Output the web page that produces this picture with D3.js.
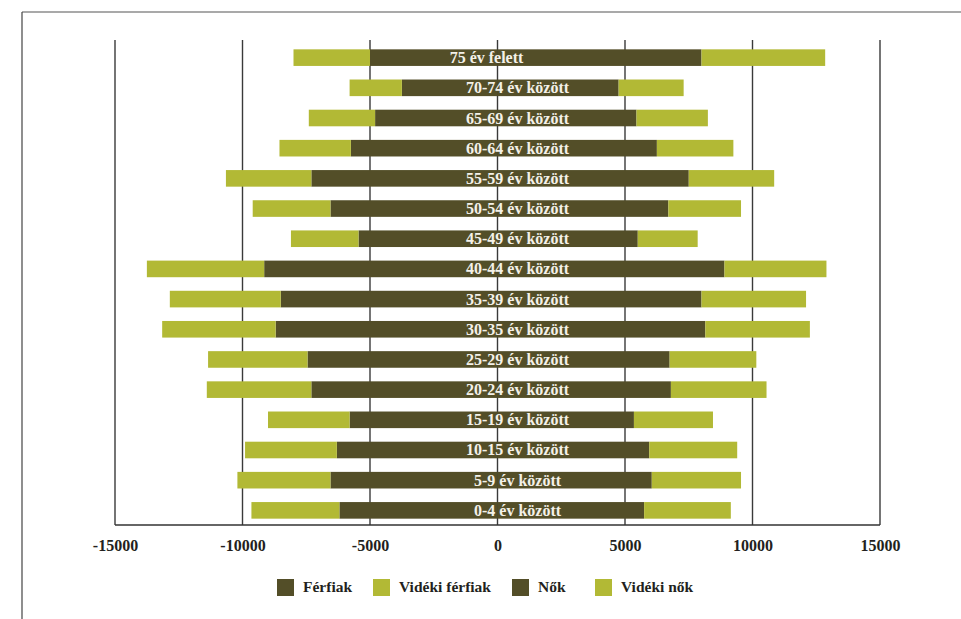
<!DOCTYPE html>
<html>
<head>
<meta charset="utf-8">
<script src="https://cdn.jsdelivr.net/npm/d3@7"></script>
<style>
  html, body { margin: 0; padding: 0; background: #fff; }
  svg { display: block; }
  text { font-family: "Liberation Serif", "DejaVu Serif", serif; font-weight: bold; }
</style>
</head>
<body>
<svg id="chart" width="961" height="619"></svg>
<script>
const ages = ["75 év felett","70-74 év között","65-69 év között","60-64 év között","55-59 év között","50-54 év között","45-49 év között","40-44 év között","35-39 év között","30-35 év között","25-29 év között","20-24 év között","15-19 év között","10-15 év között","5-9 év között","0-4 év között"];
const ferfiak        = [5000,3750,4800,5750,7300,6550,5450,9150,8500,8700,7450,7300,5800,6300,6550,6200];
const videkiFerfiak  = [3000,2050,2600,2800,3350,3050,2650,4600,4350,4450,3900,4100,3200,3600,3650,3450];
const nok            = [8000,4750,5450,6250,7500,6700,5500,8900,8000,8150,6750,6800,5350,5950,6050,5750];
const videkiNok      = [4850,2550,2800,3000,3350,2850,2350,4000,4100,4100,3400,3750,3100,3450,3500,3400];
const tickValues = [-15000,-10000,-5000,0,5000,10000,15000];
const seriesNames = ["Férfiak","Vidéki férfiak","Nők","Vidéki nők"];

const DARK = "#534e28", LIGHT = "#b2b935";
const svg = d3.select("#chart");

const x = d3.scaleLinear().domain([-15000, 15000]).range([115, 880]);
const y = d3.scaleBand().domain(ages).range([43, 525]).paddingInner(0.45).paddingOuter(0.21);

// outer page frame
svg.append("line").attr("x1", 22).attr("x2", 961).attr("y1", 12).attr("y2", 12)
  .attr("stroke", "#8c8c8c").attr("stroke-width", 1.7);
svg.append("line").attr("x1", 22).attr("x2", 22).attr("y1", 12).attr("y2", 619)
  .attr("stroke", "#444").attr("stroke-width", 1.2);

// gridlines
svg.append("g").selectAll("line").data(tickValues).join("line")
  .attr("x1", d => x(d)).attr("x2", d => x(d))
  .attr("y1", 40).attr("y2", 525)
  .attr("stroke", "#3a3a3a").attr("stroke-width", 1.4);
// bottom axis line
svg.append("line").attr("x1", x(-15000)).attr("x2", x(15000)).attr("y1", 525).attr("y2", 525)
  .attr("stroke", "#333").attr("stroke-width", 1.7);

// bars
const rows = ages.map((a, i) => ({age: a, m: ferfiak[i], vm: videkiFerfiak[i], f: nok[i], vf: videkiNok[i]}));
const g = svg.append("g");
const bh = y.bandwidth();
g.selectAll(".m").data(rows).join("rect")
  .attr("x", d => x(-d.m)).attr("width", d => x(0) - x(-d.m))
  .attr("y", d => y(d.age)).attr("height", bh).attr("fill", DARK);
g.selectAll(".vm").data(rows).join("rect")
  .attr("x", d => x(-d.m - d.vm)).attr("width", d => x(-d.m) - x(-d.m - d.vm))
  .attr("y", d => y(d.age)).attr("height", bh).attr("fill", LIGHT);
g.selectAll(".f").data(rows).join("rect")
  .attr("x", x(0)).attr("width", d => x(d.f) - x(0))
  .attr("y", d => y(d.age)).attr("height", bh).attr("fill", DARK);
g.selectAll(".vf").data(rows).join("rect")
  .attr("x", d => x(d.f)).attr("width", d => x(d.f + d.vf) - x(d.f))
  .attr("y", d => y(d.age)).attr("height", bh).attr("fill", LIGHT);

// category labels
g.selectAll(".lbl").data(rows).join("text")
  .attr("x", d => x(0) + (d.age.indexOf("között") >= 0 ? 20 : -11))
  .attr("y", d => y(d.age) + bh / 2 + 5.5)
  .attr("text-anchor", "middle")
  .attr("font-size", 16)
  .attr("fill", "#f4f1e8")
  .text(d => d.age);

// x axis tick labels
const axis = d3.axisBottom(x).tickValues(tickValues).tickSize(0).tickPadding(0).tickFormat(d => String(d));
const ax = svg.append("g").attr("transform", "translate(0,540)").call(axis);
ax.select(".domain").remove();
ax.selectAll("text").attr("font-size", 16).attr("fill", "#231f20")
  .attr("font-family", "Liberation Serif, DejaVu Serif, serif").attr("font-weight", "bold");

// legend
const legendX = [277, 373, 512, 595];
const legendColors = [DARK, LIGHT, DARK, LIGHT];
const lg = svg.append("g");
seriesNames.forEach((n, i) => {
  lg.append("rect").attr("x", legendX[i]).attr("y", 579).attr("width", 17).attr("height", 17).attr("fill", legendColors[i]);
  lg.append("text").attr("x", legendX[i] + 26).attr("y", 592).attr("font-size", 15.5).attr("fill", "#231f20").text(n);
});
</script>
</body>
</html>
